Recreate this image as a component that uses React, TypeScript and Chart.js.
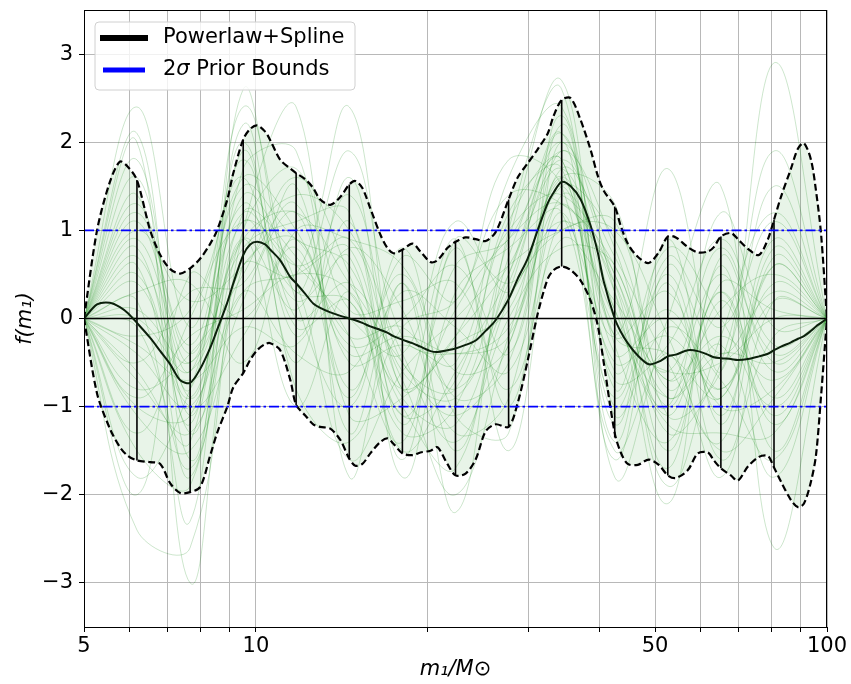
import React, { useEffect, useRef } from 'react';
import { Chart, registerables } from 'chart.js';

Chart.register(...registerables);

// ---- data ----
const massGrid = [
  5, 5.27, 5.55, 5.78, 5.97, 6.19, 6.53, 6.8, 7.08, 7.37,
  7.67, 7.99, 8.32, 8.55, 8.91, 9.13, 9.5, 9.77, 10.05, 10.38,
  10.6, 11.03, 11.49, 11.76, 12.2, 12.6, 12.96, 13.5, 14.06, 14.57,
  14.93, 15.36, 15.86, 16.52, 16.99, 17.41, 18.05, 18.79, 19.41, 20.22,
  20.79, 21.64, 22.36, 23.29, 24.25, 25.25, 26.29, 27.7, 28.73, 29.91,
  31.14, 32.43, 33.22, 34.31, 35.58, 37.04, 38.57, 39.68, 40.65, 42.49,
  43.54, 44.78, 46.63, 48.74, 50.75, 52.63, 54.36, 57.06, 59.41, 61.85,
  63.37, 65.19, 67.87, 69.81, 72.69, 76.0, 78.81, 80.76, 83.06, 86.48,
  88.96, 91.13, 93.75, 95.66, 97.6, 100,
];

const meanCurve = [
  0, 0.16, 0.18, 0.13, 0.06, -0.05, -0.22, -0.37, -0.52, -0.7,
  -0.73, -0.57, -0.33, -0.13, 0.18, 0.4, 0.72, 0.84, 0.87, 0.84,
  0.78, 0.66, 0.47, 0.4, 0.28, 0.17, 0.12, 0.07, 0.03, 0.0,
  -0.02, -0.05, -0.09, -0.13, -0.16, -0.2, -0.24, -0.28, -0.32, -0.37,
  -0.38, -0.36, -0.34, -0.3, -0.25, -0.14, -0.02, 0.22, 0.45, 0.68,
  1.0, 1.31, 1.43, 1.55, 1.5, 1.35, 1.05, 0.75, 0.42, 0.0,
  -0.15, -0.28, -0.42, -0.52, -0.49, -0.43, -0.41, -0.36, -0.37, -0.41,
  -0.44, -0.45, -0.46, -0.47, -0.46, -0.43, -0.4, -0.36, -0.32, -0.27,
  -0.23, -0.2, -0.14, -0.09, -0.05, 0,
];

const upperCurve = [
  0, 1.0, 1.55, 1.78, 1.72, 1.57, 1.0, 0.72, 0.56, 0.51,
  0.57, 0.68, 0.85, 1.0, 1.35, 1.65, 2.03, 2.15, 2.19, 2.12,
  2.02, 1.8, 1.7, 1.65, 1.58, 1.48, 1.35, 1.29, 1.38, 1.52,
  1.56, 1.48, 1.25, 0.95, 0.8, 0.74, 0.78, 0.85, 0.76, 0.64,
  0.66, 0.8, 0.87, 0.92, 0.9, 0.88, 0.98, 1.35, 1.6, 1.76,
  1.92, 2.1, 2.3, 2.48, 2.5, 2.25, 1.91, 1.62, 1.45, 1.27,
  1.05, 0.85, 0.7, 0.63, 0.75, 0.93, 0.92, 0.81, 0.75, 0.76,
  0.81, 0.93, 0.97, 0.9, 0.79, 0.72, 0.9, 1.12, 1.38, 1.7,
  1.93, 1.99, 1.8, 1.45, 0.97, 0,
];

const lowerCurve = [
  0, -0.85, -1.25, -1.46, -1.56, -1.61, -1.63, -1.65, -1.87, -1.98,
  -1.97, -1.91, -1.55, -1.3, -1.0, -0.78, -0.62, -0.47, -0.36, -0.29,
  -0.28, -0.36, -0.7, -0.98, -1.1, -1.2, -1.23, -1.25, -1.38, -1.59,
  -1.67, -1.65, -1.53, -1.4, -1.36, -1.42, -1.53, -1.55, -1.52, -1.5,
  -1.46, -1.65, -1.78, -1.76, -1.6, -1.28, -1.2, -1.23, -0.96, -0.48,
  0.05, 0.45, 0.55, 0.59, 0.55, 0.43, 0.2, -0.08, -0.5, -1.3,
  -1.52, -1.65, -1.66, -1.6, -1.66, -1.78, -1.81, -1.72, -1.53, -1.52,
  -1.61, -1.7, -1.78, -1.84, -1.68, -1.57, -1.56, -1.69, -1.85, -2.06,
  -2.14, -2.1, -1.85, -1.55, -0.89, 0,
];

const knotMasses = [6.19, 7.67, 9.5, 11.76, 14.57, 18.05, 22.36, 27.7, 34.31, 42.49, 52.63, 65.19, 80.76];
const knotUpper = [1.57, 0.57, 2.03, 1.65, 1.52, 0.78, 0.87, 1.35, 2.48, 1.27, 0.93, 0.93, 1.12];
const knotLower = [-1.61, -1.97, -0.62, -0.98, -1.59, -1.53, -1.78, -1.23, 0.59, -1.35, -1.78, -1.7, -1.69];

const sampleMasses = [5, 6.19, 7.67, 9.5, 11.76, 14.57, 18.05, 22.36, 27.7, 34.31, 42.49, 52.63, 65.19, 80.76, 100];
const samples = [
  [0, 1.2, -0.3, 1.5, 0.9, 0.6, -0.9, -1.2, 0.5, 1.9, 0.8, -1.0, 0.3, -1.2, 0],
  [0, -1.1, -1.5, 0.2, 1.2, -0.8, 0.3, -0.1, -0.6, 1.2, -0.9, 0.5, -1.1, 0.6, 0],
  [0, 0.8, -1.2, 1.9, -0.2, 1.1, -1.2, 0.6, 0.9, 2.1, -0.3, -1.4, 0.4, 0.1, 0],
  [0, -0.5, 0.3, 0.4, 1.5, -1.3, 0.4, -1.5, 0.2, 1.0, 1.0, -0.2, -1.5, -0.9, 0],
  [0, 1.6, -0.9, 0.9, 0.1, 1.4, -0.5, -0.8, 1.2, 1.7, -1.2, 0.7, -0.1, 1.1, 0],
  [0, -1.5, -1.9, 1.2, 0.7, -0.2, -1.4, 0.8, -1.0, 1.4, 0.3, -1.7, 0.6, -1.5, 0],
  [0, 0.3, 0.4, -0.5, 1.0, 0.9, 0.6, -0.6, -0.3, 2.3, -0.6, 0.1, -0.8, 0.4, 0],
  [0, 0.9, -0.6, 2.0, -0.8, -1.4, -0.1, 0.2, 1.4, 1.3, 0.6, -0.9, -0.3, -1.8, 0],
  [0, -0.9, -0.2, 0.1, 0.5, 0.3, -1.0, -1.7, 0.7, 1.8, -1.4, 0.9, -1.2, 0.8, 0],
  [0, 2.1, -1.6, 1.0, 1.7, 0.1, 0.2, 0.4, -0.8, 0.9, 0.2, -0.6, 0.8, -0.5, 0],
  [0, -0.2, 0.1, 1.6, -0.5, 1.6, -0.8, -0.3, 0.1, 1.6, 1.3, -1.1, -0.6, 1.5, 0],
  [0, 0.5, -1.0, -0.2, 0.8, -0.9, 0.8, -1.1, -1.3, 2.0, -1.0, 0.4, -1.6, -0.2, 0],
  [0, -1.8, -0.8, 1.3, 0.2, 0.7, -1.6, 0.9, 0.4, 1.1, 0.5, -1.5, 0.2, -1.1, 0],
  [0, 1.0, 0.2, 0.6, 1.3, -0.5, -0.3, -0.5, 1.6, 2.4, -0.4, 0.0, -0.9, 0.9, 0],
  [0, -0.6, -1.4, 2.2, 0.0, 0.4, -0.7, -2.0, -0.2, 1.5, 0.9, -0.7, 0.5, -0.6, 0],
  [0, 0.1, -0.5, 0.8, 1.1, 1.2, -1.8, 0.3, 0.8, 1.2, -1.6, 0.6, -0.4, 0.3, 0],
  [0, 1.4, -1.3, 0.3, -0.4, -0.6, 0.5, -0.9, -0.5, 1.9, 0.1, -1.2, -1.3, -1.3, 0],
  [0, -1.3, 0.0, 1.1, 0.6, 0.0, -0.4, 1.1, 0.3, 1.6, -0.7, -0.3, 0.9, -0.3, 0],
  [0, 0.6, -1.8, 1.7, 1.9, -1.1, -0.9, -0.2, 1.0, 1.4, 0.4, -1.9, -0.2, 1.2, 0],
  [0, -0.3, -0.7, -0.1, -0.3, 0.8, 0.1, -1.3, -0.9, 2.2, -0.2, 0.3, -1.0, -0.8, 0],
  [0, 1.8, -1.1, 1.4, 0.4, -1.6, -0.6, 0.0, 0.6, 1.0, 1.1, -0.8, 0.1, 0.5, 0],
  [0, -0.8, -0.4, 0.5, 1.6, 0.5, -1.1, -0.7, 1.1, 1.8, -1.1, -0.1, -0.7, -1.6, 0],
  [0, 0.2, -2.3, 2.6, 0.3, 1.9, -0.2, -0.4, -0.1, 1.3, 0.0, -1.0, 1.2, -0.1, 0],
  [0, -2.0, 0.5, 0.0, 0.9, -0.3, 0.0, 0.6, -0.4, 1.7, 0.7, -0.5, -1.4, 0.7, 0],
  [0, 2.4, -0.1, 1.8, -0.1, 0.2, -1.3, -1.0, 0.9, 2.7, -0.8, 0.8, 0.0, -1.0, 0],
  [0, -0.1, -1.7, 0.7, 1.4, 1.0, -0.4, -1.4, 0.0, 0.8, 0.6, -1.3, -0.5, 1.9, 0],
  [0, 0.7, -0.8, 2.4, 0.2, -1.0, 0.7, 0.2, 1.8, 1.5, -1.5, -0.4, -1.8, 0.2, 0],
  [0, -1.0, -1.1, 0.9, -1.0, 0.3, -1.5, -0.6, 0.5, 2.0, 0.3, -2.1, 0.7, -0.4, 0],
  [0, 2.0, -3.0, 0.6, 0.5, 2.4, -0.8, 0.9, -1.5, 1.1, -0.2, 1.7, -0.6, 2.9, 0],
  [0, -2.4, -2.6, 1.0, 2.4, -1.8, 0.4, -2.2, 1.0, 2.6, -1.8, 0.0, 1.5, -2.6, 0],
  [0, 1.3, -0.4, 1.2, 0.6, 0.9, -0.6, -0.9, 0.4, 1.8, 0.5, -0.7, -0.2, -0.7, 0],
  [0, -0.4, -1.0, 0.6, 0.9, -0.4, -0.2, -0.4, -0.2, 1.5, -0.5, -0.2, -0.8, 0.2, 0],
  [0, 0.4, -0.9, 1.1, 0.3, 0.2, -0.8, -0.2, 0.6, 1.7, 0.1, -0.9, -0.4, -0.5, 0],
  [0, 1.1, -0.5, 1.6, 1.0, -0.2, -0.1, -0.8, 0.3, 2.1, -0.2, -0.4, -0.9, 0.6, 0],
  [0, -0.7, -1.3, 0.3, 0.5, 0.8, -1.1, 0.1, 0.9, 1.3, 0.4, -1.1, 0.3, -0.9, 0],
  [0, 0.0, -0.6, 0.9, 1.2, 0.4, -0.5, -1.1, -0.3, 1.6, -0.1, -0.6, -0.5, 0.0, 0],
];

const priorBounds = [-1, 1];
const zeroLevel = 0;
const xRange = [5, 100];
const yRange = [-3.5, 3.5];
const xTickValues = [5, 6, 7, 8, 9, 10, 20, 30, 40, 50, 60, 70, 80, 90, 100];
const xTickLabels = [5, 10, 50, 100];
const yTickValues = [-3, -2, -1, 0, 1, 2, 3];
const legendLabels = ['Powerlaw+Spline', '2σ Prior Bounds'];
const legendColors = ['#000000', '#0000ff'];

const FONT = "'DejaVu Sans', sans-serif";

const pts = (xs: number[], ys: number[]) => xs.map((x, i) => ({ x, y: ys[i] }));

const framePlugin = {
  id: 'frameAndLegend',
  afterDraw(chart: any) {
    const { ctx, chartArea } = chart;
    ctx.save();
    // spines
    ctx.strokeStyle = '#000';
    ctx.lineWidth = 1;
    ctx.strokeRect(chartArea.left + 0.5, chartArea.top + 0.5, chartArea.right - chartArea.left - 1, chartArea.bottom - chartArea.top);
    // legend box
    const bx = chartArea.left + 11;
    const by = chartArea.top + 12;
    const bw = 260;
    const bh = 68;
    const r = 4;
    ctx.beginPath();
    ctx.moveTo(bx + r, by);
    ctx.lineTo(bx + bw - r, by);
    ctx.quadraticCurveTo(bx + bw, by, bx + bw, by + r);
    ctx.lineTo(bx + bw, by + bh - r);
    ctx.quadraticCurveTo(bx + bw, by + bh, bx + bw - r, by + bh);
    ctx.lineTo(bx + r, by + bh);
    ctx.quadraticCurveTo(bx, by + bh, bx, by + bh - r);
    ctx.lineTo(bx, by + r);
    ctx.quadraticCurveTo(bx, by, bx + r, by);
    ctx.closePath();
    ctx.fillStyle = 'rgba(255,255,255,0.8)';
    ctx.fill();
    ctx.strokeStyle = '#d0d0d0';
    ctx.lineWidth = 1;
    ctx.stroke();
    const rows = [by + 16, by + 48];
    legendLabels.forEach((label, i) => {
      const y = rows[i];
      ctx.strokeStyle = legendColors[i];
      ctx.lineWidth = i === 0 ? 6 : 5;
      ctx.beginPath();
      ctx.moveTo(bx + (i === 0 ? 5 : 8), y);
      ctx.lineTo(bx + (i === 0 ? 53 : 50), y);
      ctx.stroke();
      ctx.fillStyle = '#000';
      ctx.textBaseline = 'middle';
      ctx.textAlign = 'left';
      let tx = bx + 68;
      const parts = label.split('σ');
      if (parts.length > 1) {
        ctx.font = `21px ${FONT}`;
        ctx.fillText(parts[0], tx, y);
        tx += ctx.measureText(parts[0]).width;
        ctx.font = `italic 21px ${FONT}`;
        ctx.fillText('σ', tx, y);
        tx += ctx.measureText('σ').width;
        ctx.font = `21px ${FONT}`;
        ctx.fillText(parts[1], tx, y);
      } else {
        ctx.font = `21px ${FONT}`;
        ctx.fillText(label, tx, y);
      }
    });
    ctx.restore();
  },
};

export default function App() {
  const ref = useRef<HTMLCanvasElement | null>(null);

  useEffect(() => {
    if (!ref.current) return;
    const datasets: any[] = [];
    datasets.push({
      label: 'mean',
      data: pts(massGrid, meanCurve),
      borderColor: '#0b200b',
      borderWidth: 2,
      pointRadius: 0,
      tension: 0.3,
      fill: false,
      order: 1,
    });
    datasets.push({
      label: 'upper',
      data: pts(massGrid, upperCurve),
      borderColor: '#000',
      borderWidth: 2.2,
      borderDash: [7, 3.5],
      pointRadius: 0,
      tension: 0.3,
      fill: false,
      order: 2,
    });
    datasets.push({
      label: 'lower',
      data: pts(massGrid, lowerCurve),
      borderColor: '#000',
      borderWidth: 2.2,
      borderDash: [7, 3.5],
      pointRadius: 0,
      tension: 0.3,
      fill: false,
      order: 2,
    });
    knotMasses.forEach((m, i) => {
      datasets.push({
        label: 'knot' + i,
        data: [{ x: m, y: knotLower[i] }, { x: m, y: knotUpper[i] }],
        borderColor: '#000',
        borderWidth: 1.6,
        pointRadius: 0,
        fill: false,
        order: 3,
      });
    });
    datasets.push({
      label: 'zero',
      data: [{ x: xRange[0], y: zeroLevel }, { x: xRange[1], y: zeroLevel }],
      borderColor: '#000',
      borderWidth: 1.6,
      pointRadius: 0,
      fill: false,
      order: 4,
    });
    priorBounds.forEach((b, i) => {
      datasets.push({
        label: 'prior' + i,
        data: [{ x: xRange[0], y: b }, { x: xRange[1], y: b }],
        borderColor: '#0000ff',
        borderWidth: 1.8,
        borderDash: [10, 3, 2.5, 3],
        pointRadius: 0,
        fill: false,
        order: 0,
      });
    });
    const fillLowerIndex = datasets.length + 1;
    datasets.push({
      label: 'bandFillUpper',
      data: pts(massGrid, upperCurve),
      borderWidth: 0,
      borderColor: 'rgba(0,0,0,0)',
      backgroundColor: 'rgba(0,128,0,0.09)',
      pointRadius: 0,
      tension: 0.3,
      fill: fillLowerIndex,
      order: 15,
    });
    datasets.push({
      label: 'bandFillLower',
      data: pts(massGrid, lowerCurve),
      borderWidth: 0,
      borderColor: 'rgba(0,0,0,0)',
      pointRadius: 0,
      tension: 0.3,
      fill: false,
      order: 15,
    });
    samples.forEach((s, i) => {
      datasets.push({
        label: 'sample' + i,
        data: pts(sampleMasses, s),
        borderColor: 'rgba(0,128,0,0.2)',
        borderWidth: 1,
        pointRadius: 0,
        tension: 0.4,
        fill: false,
        order: 20,
      });
    });

    const chart = new Chart(ref.current, {
      type: 'line',
      data: { datasets },
      plugins: [framePlugin],
      options: {
        animation: false,
        responsive: false,
        devicePixelRatio: 1,
        parsing: false,
        normalized: true,
        layout: { padding: { left: 0, right: 24, top: 10, bottom: 0 } },
        plugins: {
          legend: { display: false },
          tooltip: { enabled: false },
        },
        scales: {
          x: {
            type: 'logarithmic',
            min: xRange[0],
            max: xRange[1],
            afterBuildTicks: (scale: any) => {
              scale.ticks = xTickValues.map((v) => ({ value: v }));
            },
            afterFit: (scale: any) => {
              scale.height = 57;
            },
            ticks: {
              autoSkip: false,
              maxRotation: 0,
              minRotation: 0,
              padding: 2,
              color: '#000',
              font: { family: FONT, size: 21 },
              callback: (v: any) => (xTickLabels.includes(Number(v)) ? String(v) : ''),
            },
            grid: {
              color: '#b8b8b8',
              lineWidth: 1,
              tickColor: '#000',
              tickLength: 5,
              drawTicks: true,
            },
            border: { color: '#000', width: 1 },
            title: {
              display: true,
              text: 'm₁/M⊙',
              color: '#000',
              font: { family: FONT, size: 21, style: 'italic' },
              padding: { top: 0, bottom: 2 },
            },
          },
          y: {
            type: 'linear',
            min: yRange[0],
            max: yRange[1],
            afterBuildTicks: (scale: any) => {
              scale.ticks = yTickValues.map((v) => ({ value: v }));
            },
            afterFit: (scale: any) => {
              scale.width = 84;
              scale.paddingTop = 0;
              scale.paddingBottom = 0;
            },
            ticks: {
              padding: 6,
              color: '#000',
              font: { family: FONT, size: 21 },
              callback: (v: any) => (Number(v) < 0 ? '\u2212' + Math.abs(Number(v)) : String(v)),
            },
            grid: {
              color: '#b8b8b8',
              lineWidth: 1,
              tickColor: '#000',
              tickLength: 5,
              drawTicks: true,
            },
            border: { color: '#000', width: 1 },
            title: {
              display: true,
              text: 'f(m₁)',
              color: '#000',
              font: { family: FONT, size: 21, style: 'italic' },
              padding: { top: 13, bottom: 0 },
            },
          },
        },
      },
    });
    return () => chart.destroy();
  }, []);

  return (
    <div style={{ position: 'fixed', left: 0, top: 0, width: 851, height: 684, background: '#fff' }}>
      <canvas ref={ref} width={851} height={684} style={{ display: 'block', width: 851, height: 684 }} />
    </div>
  );
}
